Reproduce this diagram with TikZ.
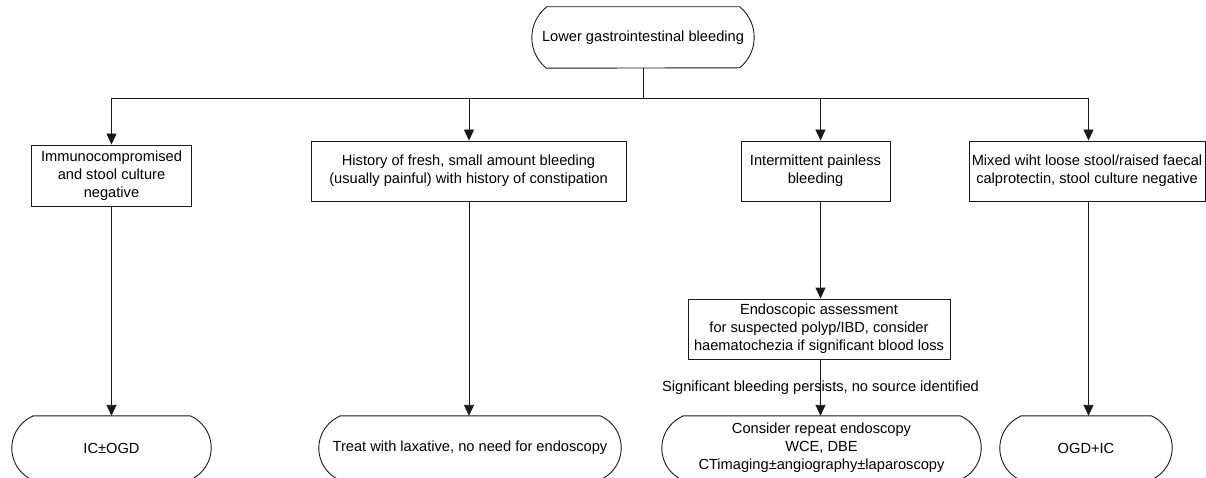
\documentclass[tikz,border=0pt]{standalone}
\usepackage{fontspec}
\setmainfont{Liberation Sans}
\usetikzlibrary{arrows.meta}
% #1 node, #2 depth of the curved end (pt), #3 half height (pt)
\newcommand\capsule[3]{%
  \pgfmathsetmacro\capR{((#3)*(#3)+(#2)*(#2))/(2*(#2))}%
  \pgfmathsetmacro\capT{asin((#3)/\capR)}%
  \draw[line] ([xshift=#2pt]#1.north west) -- ([xshift=-#2pt]#1.north east)
    arc[start angle=\capT,end angle=-\capT,radius=\capR pt]
    -- ([xshift=#2pt]#1.south west)
    arc[start angle=180+\capT,end angle=180-\capT,radius=\capR pt] -- cycle;}
\begin{document}
\begin{tikzpicture}[x=1pt,y=1pt,
  line/.style={line width=0.9pt,draw=black!90},
  arr/.style={line,-{Triangle[length=11pt,width=10pt]}},
  txt/.style={font=\fontsize{14.65pt}{18pt}\selectfont,align=center,inner sep=0pt},
  boxn/.style={txt,draw=black!90,line width=0.9pt,rectangle},
  capn/.style={txt,rectangle}]
\useasboundingbox (0,0) rectangle (1206,477);
\clip (0,0) rectangle (1206,477);
% top node
\node[capn,minimum width=222pt,minimum height=61pt] (top) at (643,439.5) {Lower gastrointestinal bleeding};
\capsule{top}{14.5}{30.5}
% second row boxes
\node[boxn,minimum width=160pt,minimum height=61pt] (b1) at (111.5,301.5) {Immunocompromised\\and stool culture\\negative};
\node[boxn,minimum width=315pt,minimum height=60pt] (b2) at (468.5,306) {History of fresh, small amount bleeding\\(usually painful) with history of constipation};
\node[boxn,minimum width=149pt,minimum height=60pt] (b3) at (815.5,306) {Intermittent painless\\bleeding};
\node[boxn,minimum width=236pt,minimum height=60pt] (b4) at (1087,306) {Mixed wiht loose stool/raised faecal\\calprotectin, stool culture negative};
% endoscopic box
\node[boxn,minimum width=262pt,minimum height=60pt] (endo) at (819,148) {Endoscopic assessment\\for suspected polyp/IBD, consider\\haematochezia if significant blood loss};
% bottom nodes
\node[capn,minimum width=199pt,minimum height=64pt] (o1) at (111.5,29) {IC±OGD};
\node[capn,minimum width=302pt,minimum height=64pt] (o2) at (470,29) {Treat with laxative, no need for endoscopy};
\node[capn,minimum width=319pt,minimum height=64pt] (o3) at (821.5,29) {Consider repeat endoscopy\\WCE, DBE\\CTimaging±angiography±laparoscopy};
\node[capn,minimum width=172pt,minimum height=64pt] (o4) at (1086,29) {OGD+IC};
\capsule{o1}{21}{32}
\capsule{o2}{21}{32}
\capsule{o3}{21}{32}
\capsule{o4}{21}{32}
% connectors
\coordinate (hub) at (643,379);
\coordinate (j1) at (111.5,379);
\coordinate (j2) at (469,379);
\coordinate (j3) at (820.5,379);
\coordinate (j4) at (1088.5,379);
\draw[line] (top.south) -- (hub);
\draw[line] (j1) -- (j4);
\draw[arr] (j1) -- (j1 |- b1.north);
\draw[arr] (j2) -- (j2 |- b2.north);
\draw[arr] (j3) -- (j3 |- b3.north);
\draw[arr] (j4) -- (j4 |- b4.north);
\draw[arr] (j1 |- b1.south) -- (j1 |- o1.north);
\draw[arr] (j2 |- b2.south) -- (j2 |- o2.north);
\draw[arr] (j3 |- b3.south) -- (j3 |- endo.north);
\draw[arr] (j3 |- endo.south) -- (j3 |- o3.north) node[txt,pos=0.5] (lab) {Significant bleeding persists, no source identified};
\draw[arr] (j4 |- b4.south) -- (j4 |- o4.north);
\end{tikzpicture}
\end{document}
